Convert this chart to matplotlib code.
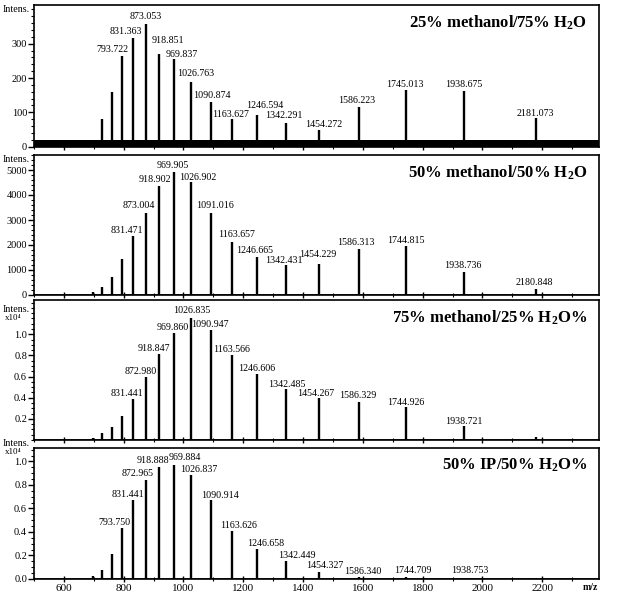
import matplotlib
matplotlib.use("Agg")
import matplotlib.pyplot as plt
from matplotlib.ticker import MultipleLocator
import numpy as np

plt.rcParams['font.family'] = ['Liberation Serif', 'DejaVu Serif']
plt.rcParams['mathtext.fontset'] = 'custom'
plt.rcParams['mathtext.rm'] = 'Liberation Serif:bold'
plt.rcParams['mathtext.it'] = 'Liberation Serif:bold'

# peak m/z positions (charge states 26+ .. 8+)
mz = [698.7, 727.7, 759.3, 793.7, 831.4, 873.0, 918.9, 969.9, 1026.8,
      1090.9, 1163.6, 1246.6, 1342.4, 1454.3, 1586.3, 1744.9, 1938.7, 2180.9]

# panel 1: 25% methanol / 75% H2O
int1 = [0, 82, 158, 264, 317, 357, 270, 255, 189, 131, 81, 92, 68, 48, 116, 165, 163, 85]
lab1 = ['', '', '', '793.722', '831.363', '873.053', '918.851', '969.837', '1026.763',
        '1090.874', '1163.627', '1246.594', '1342.291', '1454.272', '1586.223',
        '1745.013', '1938.675', '2181.073']
# panel 2: 50% methanol / 50% H2O
int2 = [133, 333, 707, 1427, 2360, 3293, 4373, 4933, 4507, 3267, 2133, 1507,
        1200, 1250, 1840, 1973, 907, 227]
lab2 = ['', '', '', '', '831.471', '873.004', '918.902', '969.905', '1026.902',
        '1091.016', '1163.657', '1246.665', '1342.431', '1454.229', '1586.313',
        '1744.815', '1938.736', '2180.848']
# panel 3: 75% methanol / 25% H2O (x10^4)
int3 = [0.017, 0.065, 0.121, 0.231, 0.386, 0.594, 0.817, 1.016, 1.151, 1.044,
        0.805, 0.622, 0.483, 0.398, 0.362, 0.309, 0.132, 0.025]
lab3 = ['', '', '', '', '831.441', '872.980', '918.847', '969.860', '1026.835',
        '1090.947', '1163.566', '1246.606', '1342.485', '1454.267', '1586.329',
        '1744.926', '1938.721', '']
# panel 4: 50% IP / 50% H2O (x10^4)
int4 = [0.023, 0.074, 0.214, 0.436, 0.672, 0.846, 0.952, 0.966, 0.883, 0.675,
        0.410, 0.251, 0.157, 0.063, 0.020, 0.015, 0.012, 0.008]
lab4 = ['', '', '', '793.750', '831.441', '872.965', '918.888', '969.884', '1026.837',
        '1090.914', '1163.626', '1246.658', '1342.449', '1454.327', '1586.340',
        '1744.709', '1938.753', '']

titles = [r'25% methanol/75% H$_2$O', r'50% methanol/50% H$_2$O',
          r'75% methanol/25% H$_2$O%', r'50% IP/50% H$_2$O%']
noise_level = 18

# label shifts in pixels (horizontal, vertical) so labels don't collide
dx1 = [0, 0, 0, -9, -7, 0, 9, 7, 4, 1, -2, 8, -2, 4, -2, -1, 0, -1]
dy1 = [0, 0, 0, 2, 2, 3, 9, 0, 4, 2, 0, 5, 3, 1, 2, 1, 2, 0]
dx2 = [0, 0, 0, 0, -6, -7, -4, -2, 6, 4, 4, -3, -2, -2, -3, 0, -1, -2]
dy2 = [0, 0, 0, 0, 1, 3, 2, 2, 0, 3, 3, 2, 0, 5, 2, 1, 2, 2]
dx3 = [0, 0, 0, 0, -6, -5, -5, -2, 0, -1, -1, -1, 1, -4, -1, 0, 0, 0]
dy3 = [0, 0, 0, 0, 1, 1, 1, 1, 3, 1, 1, 1, 0, 0, 2, 0, 0, 0]
dx4 = [0, 0, 0, -7, -5, -8, -6, 10, 7, 9, 6, 8, 11, 5, 4, 7, 6, 0]
dy4 = [0, 0, 0, 1, 1, 2, 2, 3, 1, 0, 1, 1, 1, 2, 1, 2, 3, 0]

W, H = 622, 593
XMIN, XMAX = 500, 2390
fig = plt.figure(figsize=(W / 100, H / 100), dpi=100)

def rect(top, bottom):
    return [34 / W, 1 - bottom / H, 565 / W, (bottom - top) / H]

panels = [
    (rect(5, 147), int1, lab1, dx1, dy1, (-1, 413), [0, 100, 200, 300], 20),
    (rect(155, 295), int2, lab2, dx2, dy2, (0, 5600), [0, 1000, 2000, 3000, 4000, 5000], 200),
    (rect(300, 440), int3, lab3, dx3, dy3, (0, 1.325), [0.2, 0.4, 0.6, 0.8, 1.0], 0.05),
    (rect(448, 579), int4, lab4, dx4, dy4, (0, 1.114), [0.0, 0.2, 0.4, 0.6, 0.8, 1.0], 0.05),
]

for i, (r, ints, labs, dxs, dys, ylim, yt, minor) in enumerate(panels):
    ax = fig.add_axes(r)
    ax.set_xlim(XMIN, XMAX)
    ax.set_ylim(*ylim)
    if i == 0:
        ax.fill_between([XMIN, XMAX], 0, noise_level, color='black', lw=0)
    else:
        ax.plot([XMIN, XMAX], [0, 0], color='black', lw=1.2)
    ax.vlines(mz, 0, ints, color='black', lw=1.7)
    for m, v, t, dx, dy in zip(mz, ints, labs, dxs, dys):
        if t:
            ax.annotate(t, (m, v), xytext=(dx * 0.72, dy * 0.72), textcoords='offset points',
                        ha='center', va='bottom', fontsize=7.2)
    ax.text(1 - 12 / 565, 1 - 9 / (r[3] * H), titles[i], transform=ax.transAxes,
            ha='right', va='top', fontsize=12, fontweight='bold')
    ax.set_xticks(np.arange(600, 2201, 200))
    ax.xaxis.set_minor_locator(MultipleLocator(100))
    ax.set_yticks(yt)
    ax.yaxis.set_minor_locator(MultipleLocator(minor))
    ax.tick_params(axis='x', which='major', direction='inout', length=5, width=1,
                   labelsize=8, pad=1)
    ax.tick_params(axis='x', which='minor', direction='inout', length=3, width=0.8)
    ax.tick_params(axis='y', which='major', direction='out', length=4, width=1,
                   labelsize=7.5, pad=1)
    ax.tick_params(axis='y', which='minor', direction='out', length=2, width=0.8)
    for s in ax.spines.values():
        s.set_linewidth(1.2)
    if i < 3:
        ax.tick_params(axis='x', labelbottom=False)
    if i >= 2:
        ax.yaxis.set_major_formatter(plt.FormatStrFormatter('%.1f'))

# "Intens." labels
for y in [10, 160, 310, 444]:
    fig.text(3 / W, 1 - y / H, 'Intens.', fontsize=7.2, ha='left', va='center')
for y in [318, 452]:
    fig.text(5 / W, 1 - y / H, 'x10⁴', fontsize=6.5, ha='left', va='center')

fig.text(590 / W, 1 - 588 / H, 'm/z', fontsize=7, fontweight='bold',
         ha='center', va='center')

fig.savefig('out.png', dpi=100)
